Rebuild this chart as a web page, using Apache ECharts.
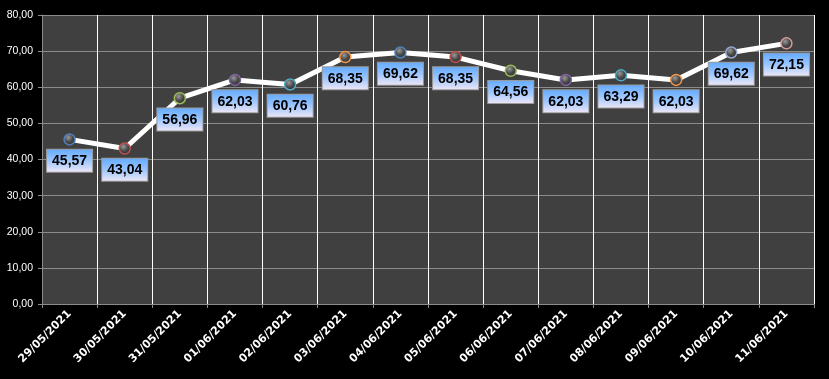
<!DOCTYPE html>
<html><head><meta charset="utf-8">
<script src="https://cdn.jsdelivr.net/npm/echarts@6/dist/echarts.min.js"></script>
<style>html,body{margin:0;padding:0;background:#000}#c{width:829px;height:379px}</style>
</head><body><div id="c"></div>
<script>
const categories = ['29/05/2021','30/05/2021','31/05/2021','01/06/2021','02/06/2021','03/06/2021','04/06/2021','05/06/2021','06/06/2021','07/06/2021','08/06/2021','09/06/2021','10/06/2021','11/06/2021'];
const values = [45.57,43.04,56.96,62.03,60.76,68.35,69.62,68.35,64.56,62.03,63.29,62.03,69.62,72.15];
const ringColors = ['#4f81bd','#c0504d','#9bbb59','#8064a2','#4bacc6','#f79646','#4f81bd','#c0504d','#9bbb59','#8064a2','#4bacc6','#f79646','#95a9cf','#d69c9b'];
const yTicks = {min:0, max:80, interval:10};

const fmt = v => v.toFixed(2).replace('.', ',');
const chart = echarts.init(document.getElementById('c'));
const sphere = new echarts.graphic.RadialGradient(0.4, 0.35, 0.7, [
  {offset:0, color:'#9a9a9a'},{offset:0.5, color:'#4a4a4a'},{offset:1, color:'#2a2a2a'}]);
chart.setOption({
  backgroundColor:'#000',
  animation:false,
  grid:{left:42, right:15, top:15, bottom:75, show:true, backgroundColor:'#404040', borderWidth:0},
  xAxis:{type:'category', data:categories, boundaryGap:true,
    axisLine:{lineStyle:{color:'#8c8c8c'}},
    axisTick:{show:true, alignWithLabel:false, length:4, lineStyle:{color:'#8c8c8c'}},
    splitLine:{show:true, lineStyle:{color:'#ffffff', width:1}},
    axisLabel:{color:'#fff', rotate:45, fontSize:11, fontFamily:'DejaVu Sans', fontWeight:'bold', margin:8, interval:0}},
  yAxis:{type:'value', min:yTicks.min, max:yTicks.max, interval:yTicks.interval,
    axisLine:{show:true, lineStyle:{color:'#8c8c8c'}},
    axisTick:{show:true, length:4, lineStyle:{color:'#8c8c8c'}},
    splitLine:{lineStyle:{color:'#8c8c8c', width:1}},
    axisLabel:{color:'#fff', fontSize:10.5, fontFamily:'Liberation Sans', margin:9, formatter:v=>fmt(v)}},
  series:[{type:'line', data:values.map((v,i)=>({value:v, itemStyle:{borderColor:ringColors[i]}})),
    lineStyle:{color:'#ffffff', width:5},
    symbol:'circle', symbolSize:11,
    itemStyle:{color:sphere, borderWidth:1.5},
    label:{show:true, position:'bottom', distance:4, formatter:p=>fmt(p.value),
      color:'#000', fontSize:14, fontWeight:'bold', fontFamily:'Liberation Sans', lineHeight:15,
      padding:[4,5,3,5], borderColor:'#9a9a9a', borderWidth:1,
      backgroundColor:new echarts.graphic.LinearGradient(0,0,0,1,[{offset:0,color:'#62aaff'},{offset:0.5,color:'#9cc6ff'},{offset:1,color:'#f2e8f6'}])}
  }]
});
</script></body></html>
